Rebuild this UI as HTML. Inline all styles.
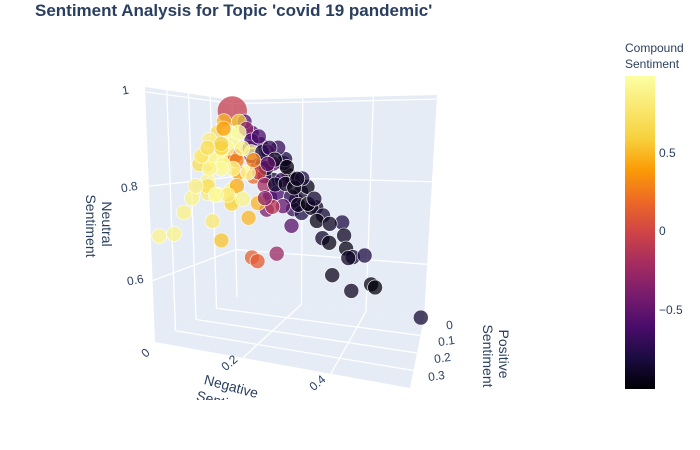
<!DOCTYPE html>
<html><head><meta charset="utf-8"><style>
html,body{margin:0;padding:0;background:#fff;}
svg{display:block;font-family:"Liberation Sans",sans-serif;}
</style></head><body>
<svg id="chart" width="700" height="450" viewBox="0 0 700 450">
<defs>
<clipPath id="sceneClip"><rect x="0" y="30" width="600" height="370"/></clipPath>
<linearGradient id="cbGrad" x1="0" y1="1" x2="0" y2="0">
<stop offset="0" stop-color="#000004"/><stop offset="0.1" stop-color="#1b0c41"/><stop offset="0.2" stop-color="#4a0c6b"/><stop offset="0.3" stop-color="#781c6d"/><stop offset="0.4" stop-color="#a52c60"/><stop offset="0.5" stop-color="#cf4446"/><stop offset="0.6" stop-color="#ed6925"/><stop offset="0.7" stop-color="#fb9b06"/><stop offset="0.8" stop-color="#f7d13d"/><stop offset="1" stop-color="#fcffa4"/>
</linearGradient>
</defs>
<text x="35" y="16" font-size="17" font-weight="bold" fill="#2a3f5f">Sentiment Analysis for Topic 'covid 19 pandemic'</text>
<g id="scene" clip-path="url(#sceneClip)"></g>
<g>
<text x="625" y="52" font-size="12" fill="#2a3f5f">Compound</text>
<text x="625" y="68" font-size="12" fill="#2a3f5f">Sentiment</text>
<rect x="625" y="76" width="30" height="313" fill="url(#cbGrad)"/>
<text x="659" y="157" font-size="12" fill="#2a3f5f">0.5</text>
<text x="659" y="235" font-size="12" fill="#2a3f5f">0</text>
<text x="659" y="314" font-size="12" fill="#2a3f5f">−0.5</text>
</g>
</svg>
<script>
// data
const negative = [0.00,0.57,0.42,0.37,0.32,0.28,0.32,0.33,0.34,0.36,0.39,0.35,0.43,0.20,0.18,0.14,0.15,0.09,0.01,0.00,0.00,0.05,0.00,0.02,0.06,0.10,0.14,0.14,0.20,0.25,0.21,0.17,0.15,0.18,0.22,0.14,0.12,0.15,0.13,0.09,0.06,0.04,0.10,0.16,0.20,0.22,0.20,0.07,0.10,0.08,0.00,0.00,0.00,0.01,0.01,0.00,0.00,0.02,0.04,0.03,0.05,0.02,0.07,0.10,0.05,0.00,0.00,0.02,0.05,0.07,0.08,0.11,0.12,0.03,0.06,0.16,0.24,0.27,0.19,0.13,0.11,0.02,0.04,0.08,
 0.03,0.05,0.07,0.08,0.10,0.12,0.11,0.09,0.06,0.04,0.13,0.15,0.17,0.19,0.21,0.23,0.18,0.16,0.13,0.10,0.07,0.03,0.01,0.02,0.01,0.06,0.08,0.11,0.13,0.16,0.19,0.24,0.26,0.14,0.04,0.09,0.12,0.02,0.05,0.00,0.29,0.30];
const positive = [0.00,0.00,0.03,0.06,0.08,0.05,0.00,0.01,0.02,0.02,0.00,0.03,0.02,0.07,0.12,0.18,0.17,0.24,0.31,0.36,0.24,0.20,0.20,0.16,0.12,0.11,0.09,0.07,0.04,0.02,0.03,0.02,0.01,0.02,0.01,0.05,0.03,0.00,0.00,0.02,0.01,0.01,0.04,0.07,0.06,0.05,0.00,0.04,0.06,0.05,0.04,0.07,0.10,0.13,0.14,0.16,0.14,0.05,0.07,0.10,0.10,0.12,0.10,0.08,0.08,0.11,0.15,0.16,0.17,0.14,0.16,0.05,0.06,0.08,0.09,0.04,0.03,0.02,0.05,0.03,0.02,0.09,0.12,0.13,
 0.02,0.02,0.03,0.05,0.03,0.05,0.07,0.09,0.11,0.13,0.08,0.06,0.04,0.03,0.05,0.03,0.08,0.10,0.12,0.14,0.16,0.18,0.20,0.09,0.06,0.06,0.01,0.01,0.02,0.01,0.01,0.01,0.04,0.10,0.04,0.06,0.04,0.15,0.18,0.12,0.02,0.05];
const neutral = [0.98,0.47,0.55,0.54,0.58,0.66,0.69,0.66,0.63,0.61,0.61,0.61,0.54,0.69,0.63,0.63,0.62,0.675,0.69,0.69,0.73,0.71,0.76,0.77,0.75,0.71,0.73,0.76,0.75,0.73,0.77,0.81,0.84,0.80,0.78,0.80,0.84,0.85,0.88,0.89,0.92,0.95,0.86,0.77,0.73,0.72,0.80,0.88,0.83,0.86,0.95,0.92,0.89,0.86,0.84,0.84,0.86,0.92,0.89,0.87,0.85,0.85,0.82,0.81,0.86,0.90,0.86,0.80,0.77,0.78,0.75,0.84,0.81,0.88,0.85,0.80,0.73,0.71,0.76,0.84,0.87,0.88,0.84,0.79,
 0.95,0.93,0.90,0.87,0.87,0.83,0.82,0.82,0.83,0.83,0.79,0.79,0.79,0.78,0.74,0.74,0.74,0.74,0.75,0.76,0.77,0.79,0.79,0.89,0.93,0.88,0.91,0.88,0.85,0.83,0.80,0.75,0.70,0.76,0.92,0.85,0.84,0.83,0.77,0.88,0.69,0.65];
const compound = [-0.05,-0.85,-0.95,-0.9,-0.92,-0.88,-0.8,-0.9,-0.95,-0.85,-0.8,-0.9,-0.97,-0.55,-0.25,0.15,0.12,0.55,0.9,0.92,0.88,0.8,0.9,0.85,0.85,0.5,-0.4,-0.55,-0.95,-0.9,-0.85,-0.9,-0.8,-0.92,-0.95,-0.85,-0.9,-0.8,-0.7,-0.75,-0.6,-0.55,-0.85,-0.6,-0.7,-0.8,-0.8,-0.5,-0.3,-0.6,0.5,0.7,0.8,0.85,0.6,0.7,0.75,0.95,0.9,0.95,0.7,0.93,0.4,0.2,0.1,0.85,0.8,0.9,0.95,0.9,0.6,-0.6,-0.7,0.95,0.3,-0.65,-0.9,-0.85,-0.75,-0.5,-0.45,0.6,0.9,0.45,
 0.6,-0.3,-0.6,0.95,-0.8,-0.9,0.0,0.95,0.9,0.95,-0.2,-0.85,-0.9,-0.95,-0.9,-0.95,-0.5,-0.1,0.5,0.9,0.8,0.7,0.85,0.6,0.4,0.9,-0.6,-0.7,-0.9,-0.95,-0.9,-0.85,-0.95,-0.3,0.95,0.3,-0.5,0.9,0.95,0.7,-0.9,-0.95];
const counts = [4,1,1,1,1,1,1,1,1,1,1,1,1,1,1,1,1,1,1,1,1,1,1,1,1,1,1,1,1,1,1,1,1,1,1,1,1,1,1,1,1,1,1,1,1,1,1,1,1,1,1,1,1,1,1,1,1,1,1,1,1,1,1,1,1,1,1,1,1,1,1,1,1,1,1,1,1,1,1,1,1,1,1,1,
 1,1,1,1,1,1,1,1,1,1,1,1,1,1,1,1,1,1,1,1,1,1,1,1,1,1,1,1,1,1,1,1,1,1,1,1,1,1,1,1,1,1];
const negTicks = [0.2,0.4];
const posTicks = [0.1,0.2,0.3];
const neuTicks = [0.6,0.8,1.0];
const negTickLabels = ["0","0.2","0.4"];
const posTickLabels = ["0","0.1","0.2","0.3"];
const neuTickLabels = ["0.6","0.8","1"];

// axis ranges and projection
const NEG=[0,0.58], POS=[0,0.4], NEU=[0.47,1.01];
const C={ '000':[237,297],'100':[424,318],'010':[155,342],'110':[410,388],
          '001':[232,100],'101':[437,95],'011':[145,87],'111':[425,118]};
function proj(n,p,e){
  const u=(n-NEG[0])/(NEG[1]-NEG[0]), v=(p-POS[0])/(POS[1]-POS[0]), w=(e-NEU[0])/(NEU[1]-NEU[0]);
  let x=0,y=0;
  for(const a of [0,1])for(const b of [0,1])for(const c of [0,1]){
    const wt=(a?u:1-u)*(b?v:1-v)*(c?w:1-w); const k=C[''+a+b+c];
    x+=wt*k[0]; y+=wt*k[1];
  }
  return [x,y];
}
const stops=[[0,[0,0,4]],[0.1,[27,12,65]],[0.2,[74,12,107]],[0.3,[120,28,109]],[0.4,[165,44,96]],[0.5,[207,68,70]],[0.6,[237,105,37]],[0.7,[251,155,6]],[0.8,[247,209,61]],[1,[252,255,164]]];
function color(c){
  let t=Math.max(0,Math.min(1,(c+1)/2));
  for(let i=1;i<stops.length;i++){ if(t<=stops[i][0]){const a=stops[i-1],b=stops[i];const f=(t-a[0])/(b[0]-a[0]);
    return 'rgb('+a[1].map((v,j)=>Math.round(v+(b[1][j]-v)*f)).join(',')+')';}}
  return 'rgb(252,255,164)';
}
const NS='http://www.w3.org/2000/svg';
const scene=document.getElementById('scene');
function poly(pts,name){
  const el=document.createElementNS(NS,'polygon');
  el.setAttribute('points',pts.map(p=>p.join(',')).join(' '));
  el.setAttribute('fill','#e5ecf6');
  
  
  scene.appendChild(el);
}
function line(a,b,name){
  const el=document.createElementNS(NS,'line');
  el.setAttribute('x1',a[0]);el.setAttribute('y1',a[1]);el.setAttribute('x2',b[0]);el.setAttribute('y2',b[1]);
  el.setAttribute('stroke','#fff');el.setAttribute('stroke-width','1.3');
  
  
  scene.appendChild(el);
}
const n0=NEG[0],n1=NEG[1],p0=POS[0],p1=POS[1],e0=NEU[0],e1=NEU[1];
poly([proj(n0,p0,e0),proj(n0,p1,e0),proj(n0,p1,e1),proj(n0,p0,e1)],'left-wall-panel');
poly([proj(n0,p0,e0),proj(n1,p0,e0),proj(n1,p0,e1),proj(n0,p0,e1)],'back-wall-panel');
poly([proj(n0,p0,e0),proj(n1,p0,e0),proj(n1,p1,e0),proj(n0,p1,e0)],'floor-panel');
negTicks.forEach(t=>{line(proj(t,p0,e0),proj(t,p0,e1),'neg-gridline-back');line(proj(t,p0,e0),proj(t,p1,e0),'neg-gridline-floor');});
posTicks.forEach(t=>{line(proj(n0,t,e0),proj(n0,t,e1),'pos-gridline-left');line(proj(n0,t,e0),proj(n1,t,e0),'pos-gridline-floor');});
neuTicks.forEach(t=>{line(proj(n0,p0,t),proj(n0,p1,t),'neu-gridline-left');line(proj(n0,p0,t),proj(n1,p0,t),'neu-gridline-back');});
line(proj(n0,p0,e0),proj(n0,p0,e1),'back-left-edge');

// points
negative.forEach((n,i)=>{
  const [x,y]=proj(n,positive[i],neutral[i]);
  const el=document.createElementNS(NS,'circle');
  el.setAttribute('cx',x.toFixed(1));el.setAttribute('cy',y.toFixed(1));
  el.setAttribute('r',counts[i]>1?15:7.5);
  el.setAttribute('fill',color(compound[i]));el.setAttribute('fill-opacity','0.75');
  el.setAttribute('stroke','#fff');el.setAttribute('stroke-width','0.6');
  
  
  scene.appendChild(el);
});

function txt(s,x,y,size,rot,name){
  const el=document.createElementNS(NS,'text');
  el.textContent=s;
  el.setAttribute('x',x);el.setAttribute('y',y);el.setAttribute('font-size',size);el.setAttribute('fill','#2a3f5f');
  el.setAttribute('text-anchor','middle');
  if(rot)el.setAttribute('transform','rotate('+rot+' '+x+' '+y+')');
  
  
  scene.appendChild(el);
}
const negLabelPos=[[148,356],[232,366],[320,386]];
negTickLabels.forEach((s,i)=>txt(s,negLabelPos[i][0],negLabelPos[i][1],12,-40,'neg-tick-label'));
const posLabelPos=[[450,329],[447,345],[443,362],[437,380]];
posTickLabels.forEach((s,i)=>txt(s,posLabelPos[i][0],posLabelPos[i][1],12,-8,'pos-tick-label'));
const neuLabelPos=[[136,284],[130,191],[126,94]];
neuTickLabels.forEach((s,i)=>txt(s,neuLabelPos[i][0],neuLabelPos[i][1],12,-10,'neu-tick-label'));
txt('Neutral',102,224,14,90,'neutral-axis-title');
txt('Sentiment',86,226,14,90,'neutral-axis-title-line2');
txt('Positive',499,354,14,90,'positive-axis-title');
txt('Sentiment',483,356,14,90,'positive-axis-title-line2');
txt('Negative',230,391,14,15,'negative-axis-title');
txt('Sentiment',226,408,14,15,'negative-axis-title-line2');
</script>
</body></html>
